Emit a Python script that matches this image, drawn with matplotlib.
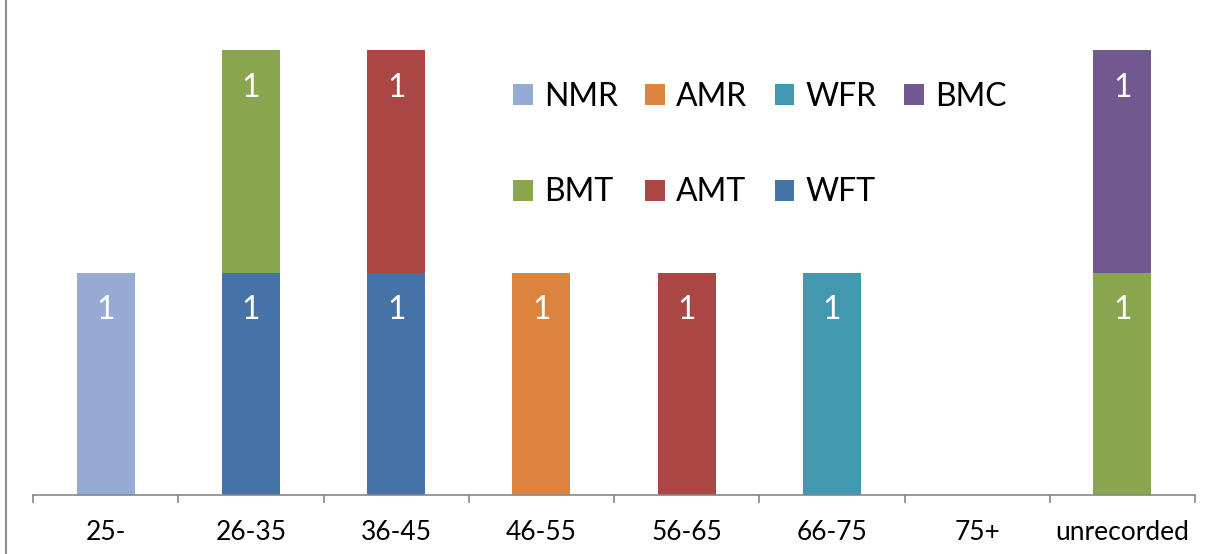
import matplotlib
matplotlib.use("Agg")
import matplotlib.pyplot as plt
from matplotlib.patches import Patch
from matplotlib.lines import Line2D
import numpy as np

categories = ["25-", "26-35", "36-45", "46-55", "56-65", "66-75", "75+", "unrecorded"]
# series values per category
NMR = [1, 0, 0, 0, 0, 0, 0, 0]
AMR = [0, 0, 0, 1, 0, 0, 0, 0]
WFR = [0, 0, 0, 0, 0, 1, 0, 0]
BMC = [0, 0, 0, 0, 0, 0, 0, 1]
BMT = [0, 1, 0, 0, 0, 0, 0, 1]
AMT = [0, 0, 1, 0, 1, 0, 0, 0]
WFT = [0, 1, 1, 0, 0, 0, 0, 0]

series = {"NMR": NMR, "AMR": AMR, "WFR": WFR, "BMC": BMC,
          "BMT": BMT, "AMT": AMT, "WFT": WFT}
colors = {"NMR": "#95ABD3", "AMR": "#DB843D", "WFR": "#4198AF", "BMC": "#71588F",
          "BMT": "#89A54E", "AMT": "#AA4643", "WFT": "#4572A7"}
stack_order = ["NMR", "AMR", "WFR", "WFT", "BMT", "AMT", "BMC"]
legend_order = ["NMR", "AMR", "WFR", "BMC", "BMT", "AMT", "WFT"]

plt.rcParams['font.family'] = ['Lato', 'DejaVu Sans']

W, H = 1229, 554
fig = plt.figure(figsize=(W / 100, H / 100), dpi=100)
ax_left, ax_right, ax_bottom, ax_top = 33, 1195, 495, 50
ax = fig.add_axes([ax_left / W, 1 - ax_bottom / H, (ax_right - ax_left) / W, (ax_bottom - ax_top) / H])

x = np.arange(len(categories))
bottom = np.zeros(len(categories))
for name in stack_order:
    vals = np.array(series[name], dtype=float)
    ax.bar(x, vals, width=0.4, bottom=bottom, color=colors[name], linewidth=0)
    for xi, v, b in zip(x, vals, bottom):
        if v > 0:
            ax.annotate(f"{int(v)}", xy=(xi, b + v), xytext=(0, -27),
                        textcoords="offset points", ha="center", va="center",
                        color="white", fontsize=23)
    bottom += vals

ax.set_xlim(-0.5, len(categories) - 0.5)
ax.set_ylim(0, 2)
for s in ["top", "right", "left"]:
    ax.spines[s].set_visible(False)
ax.spines["bottom"].set_color("#868686")
ax.spines["bottom"].set_linewidth(1.2)
ax.set_yticks([])
ax.set_xticks(x)
ax.set_xticklabels(categories, fontsize=19, color="black")
ax.tick_params(axis="x", which="major", length=0, pad=18)
ax.set_xticks(np.arange(len(categories) + 1) - 0.5, minor=True)
ax.tick_params(axis="x", which="minor", length=6, width=1.2, color="#868686", direction="out")

# legend (row-major layout emulated for column-filling legend)
handles = {n: Patch(facecolor=colors[n], edgecolor="none") for n in legend_order}
order = ["NMR", "BMT", "AMR", "AMT", "WFR", "WFT", "BMC"]
fig.legend([handles[n] for n in order], order, loc="upper left",
           bbox_to_anchor=(513 / W, 1 - 82 / H), ncol=4, frameon=False,
           fontsize=23, handlelength=0.62, handleheight=0.62, handletextpad=0.35,
           columnspacing=0.85, labelspacing=2.05, borderpad=0, borderaxespad=0)

# left border line of chart area
fig.add_artist(Line2D([6 / W, 6 / W], [1 - 553 / H, 1.0], transform=fig.transFigure,
                      color="#8C8C8C", linewidth=1.5))

fig.savefig("out.png", dpi=100)
